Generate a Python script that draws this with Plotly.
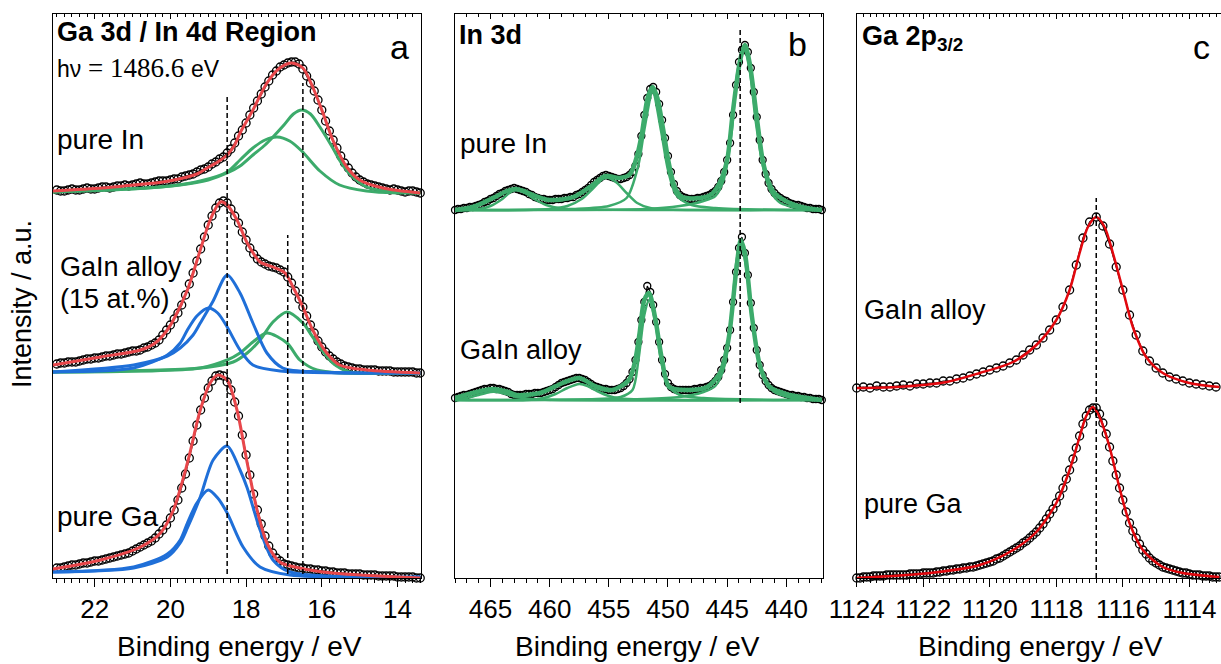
import numpy as np
import plotly.graph_objects as go

# ---------------- DATA ----------------
# Panel a: Ga 3d / In 4d (energy grid 23.0 -> 13.4 eV, 0.1 eV steps)
a_start, a_step = 23.0, 0.1
a_pure_in = [3,2,2,3,4,3,3,4,5,4, 4,5,6,6,5,6,7,7,8,7, 8,9,10,9,9,10,11,12,12,12,
             13,14,14,16,17,18,19,21,23,24, 26,29,31,34,36,40,44,50,57,63, 70,78,85,92,99,106,112,118,122,126,
             128,130,131,131,129,124,117,110,102,93, 83,72,62,53,45,37,30,25,20,16, 13,11,9,8,7,6,5,4,3,4,
             3,2,1,2,2,1,0]
a_alloy = [9,10,10,11,11,11,12,13,14,14, 15,15,16,17,17,18,19,19,20,21, 22,22,23,25,26,28,30,33,38,43,
           48,54,60,68,78,89,100,112,124,136, 148,157,165,170,172,170,164,157,150,141, 133,125,119,114,111,109,107,106,105,103,
           101,96,90,82,74,66,57,48,40,32, 26,21,17,14,11,9,7,6,5,4, 4,3,3,3,3,2,2,2,2,1,
           1,1,1,1,1,0,0]
a_pure_ga = [10,10,11,12,13,13,14,15,15,16, 17,17,18,19,20,21,22,23,24,25, 27,29,31,33,35,37,40,44,48,53,
             60,68,78,90,104,120,137,153,168,180, 190,197,202,203,202,196,188,176,162,143, 123,103,84,68,54,42,32,25,20,17,
             14,13,12,11,10,10,9,9,8,8, 7,7,6,6,5,5,5,4,4,4, 4,3,3,3,3,2,2,2,2,2,
             1,1,1,1,1,0,0]

a_in_fit_E = [23.1, 21.8, 21.0, 20.2, 19.66, 19.3, 19.03, 18.75, 18.5, 18.3, 18.16, 17.82, 17.45, 17.11, 16.79, 16.5, 16.24, 15.97, 15.71, 15.34, 15.0, 14.39, 13.4]
a_in_fit_v = [2, 5, 8, 11, 15, 19, 25, 31, 38, 48, 60, 83, 110, 125, 130, 125, 106, 80, 53, 26, 13, 5, 0]
a_in_c1_E = [23.1, 21.0, 19.74, 19.0, 18.5, 18.16, 17.82, 17.5, 17.29, 17.0, 16.75, 16.53, 16.3, 16.05, 15.71, 15.5, 15.26, 14.82, 14.3, 13.4]
a_in_c1_v = [1, 4, 8, 13, 20, 27, 38, 48, 56, 68, 79, 83, 79, 66, 45, 31, 19, 6, 2, 0]
a_in_c2_E = [23.1, 21.84, 20.26, 19.21, 18.5, 18.16, 17.82, 17.5, 17.18, 16.85, 16.53, 16.05, 15.53, 14.82, 14.0, 13.4]
a_in_c2_v = [1, 3, 6, 12, 21, 33, 45, 53, 56, 52, 42, 22, 8, 2, 0, 0]

a_al_fit_E = [23.1, 21.84, 20.79, 20.4, 20.1, 19.92, 19.55, 19.21, 18.95, 18.68, 18.5, 18.24, 17.97, 17.63, 17.29, 16.97, 16.76, 16.5, 16.24, 15.87, 15.53, 14.82, 13.4]
a_al_fit_v = [8, 16, 23, 30, 42, 53, 83, 123, 153, 171, 168, 153, 130, 111, 106, 100, 86, 66, 43, 20, 8, 3, 0]
a_al_bA_E = [23.1, 20.97, 20.08, 19.74, 19.4, 19.21, 18.87, 18.5, 18.16, 17.82, 17.45, 17.03, 16.05, 13.4]
a_al_bA_v = [1, 8, 17, 25, 38, 50, 72, 98, 80, 50, 20, 5, 1, 0]
a_al_bB_E = [23.1, 20.97, 20.08, 19.74, 19.55, 19.3, 19.0, 18.75, 18.5, 18.16, 17.82, 17.1, 13.4]
a_al_bB_v = [1, 5, 18, 30, 43, 57, 65, 60, 46, 23, 8, 2, 0]
a_al_gA_E = [23.1, 19.21, 18.34, 17.97, 17.63, 17.29, 16.92, 16.5, 16.24, 15.71, 15.26, 14.5, 13.4]
a_al_gA_v = [1, 5, 11, 20, 33, 51, 61, 50, 36, 10, 1, 0, 0]
a_al_gB_E = [23.1, 19.21, 18.5, 18.16, 17.82, 17.45, 16.92, 16.58, 16.13, 15.5, 13.4]
a_al_gB_v = [1, 5, 13, 20, 31, 40, 30, 13, 3, 0, 0]

a_ga_fit_E = [23.1, 21.84, 20.79, 20.26, 19.92, 19.55, 19.21, 18.95, 18.74, 18.5, 18.24, 17.97, 17.71, 17.45, 17.11, 16.58, 15.71, 13.4]
a_ga_fit_v = [9, 18, 31, 45, 68, 115, 168, 195, 203, 198, 168, 115, 68, 35, 16, 10, 5, 0]
a_ga_bA_E = [23.1, 20.97, 20.08, 19.74, 19.55, 19.21, 18.87, 18.5, 18.16, 17.97, 17.63, 17.29, 16.84, 13.4]
a_ga_bA_v = [6, 10, 21, 35, 50, 81, 118, 132, 108, 90, 48, 18, 6, 1]
a_ga_bB_E = [23.1, 20.97, 20.08, 19.74, 19.55, 19.3, 19.0, 18.75, 18.5, 18.08, 17.63, 16.84, 13.4]
a_ga_bB_v = [6, 11, 24, 38, 55, 75, 88, 80, 65, 31, 11, 3, 1]

# Panel b: In 3d (energy grid 468 -> 437 eV, 0.25 eV steps)
b_start, b_step = 468.0, 0.25
b_pure_in = [0,1,1,2,2,3,3,4,5,6, 8,9,11,12,14,16,17,19,20,21, 22,21,20,19,18,16,15,13,12,11,
             11,10,10,10,11,11,11,12,12,13, 13,15,16,18,20,22,25,28,30,32, 34,35,34,33,32,31,31,32,33,35,
             38,44,56,74,95,112,121,123,118,106, 90,72,54,38,26,19,15,13,12,11, 11,11,12,12,13,14,15,17,19,23,
             29,38,50,67,95,125,148,160,165,158, 142,118,93,70,50,36,27,21,17,14, 12,10,9,7,6,5,5,4,3,2,
             2,1,1,1,0]
b_alloy = [2,3,4,5,5,6,7,8,9,10, 11,11,12,12,11,11,10,9,8,6, 5,5,5,5,6,6,6,7,7,7,
           8,9,10,11,13,15,17,18,19,20, 21,22,22,21,20,18,16,14,13,12, 11,11,10,10,10,11,12,14,17,21,
           28,40,58,80,98,114,108,95,78,58, 40,26,17,13,11,10,10,10,10,10, 10,11,11,12,12,13,14,16,19,23,
           30,40,52,70,98,128,152,163,147,125, 97,72,50,35,25,19,15,12,10,9, 8,7,6,5,5,4,4,3,3,2,
           2,1,1,1,0]

b_in_env_E = [468.0, 466.5, 464.8, 463.6, 462.9, 462.2, 461.4, 460.0, 458.0, 456.6, 455.3, 454.1, 453.2, 452.6, 452.2, 451.7, 451.3, 450.9, 450.4, 449.9, 449.4, 448.8, 447.3, 446.3, 445.6, 445.0, 444.5, 443.9, 443.5, 443.1, 442.5, 442.0, 441.5, 441.0, 439.7, 438.3, 437.0]
b_in_env_v = [0, 3, 12, 19, 21, 19, 15, 10, 13, 23, 34, 32, 36, 55, 77, 113, 123, 112, 80, 45, 22, 13, 12, 16, 28, 50, 100, 150, 165, 147, 93, 50, 28, 17, 7, 2, 0]
b_in_p1_E = [468, 466, 465, 464, 463.3, 462.8, 462.2, 461.3, 460.3, 459, 457, 437]
b_in_p1_v = [0, 1, 4, 11, 18, 20, 18, 11, 5, 1.5, 0.5, 0]
b_in_p2_E = [468, 462, 460, 458.5, 457.3, 456.3, 455.5, 455.0, 454.3, 453.5, 452.6, 451.5, 450, 437]
b_in_p2_v = [0, 0, 1, 4, 11, 22, 31, 32, 27, 17, 7, 2, 0.5, 0]
b_in_d32_E = [468, 458, 455, 453.5, 452.5, 452.0, 451.3, 450.6, 450.0, 449.3, 448, 446, 440, 437]
b_in_d32_v = [0, 1, 4, 12, 45, 80, 118, 80, 40, 15, 5, 2, 0, 0]
b_in_d52_E = [468, 452, 449, 447, 446, 445.3, 444.6, 444.1, 443.55, 443.1, 442.6, 442.0, 441.3, 440.5, 439, 437]
b_in_d52_v = [0, 1, 4, 9, 14, 30, 80, 140, 160, 140, 90, 45, 18, 7, 2, 0]

b_al_env_E = [468.0, 466.5, 464.8, 463.5, 462.8, 460.8, 458.9, 457.5, 456.0, 454.7, 453.3, 452.8, 452.4, 452.0, 451.6, 451.1, 450.5, 449.9, 448.4, 446.7, 445.6, 445.2, 444.8, 444.2, 443.85, 443.5, 442.9, 442.2, 441.4, 439.7, 437.0]
b_al_env_v = [2, 7, 11, 8, 5, 7, 17, 22, 13, 10, 20, 38, 67, 100, 107, 83, 40, 13, 10, 13, 27, 42, 67, 133, 160, 147, 83, 33, 13, 5, 0]
b_al_p1_E = [468, 467, 466, 465, 464.5, 463.7, 462.8, 461.5, 460, 437]
b_al_p1_v = [0, 2, 5, 8, 8, 6, 3, 1, 0, 0]
b_al_p2_E = [468, 462, 460.5, 459.5, 458.5, 457.5, 456.8, 456, 455, 454, 452, 437]
b_al_p2_v = [0, 0, 2, 6, 12, 16, 14, 9, 4, 1.5, 0.5, 0]
b_al_d32_E = [468, 456, 454, 453, 452.5, 452.0, 451.6, 451.1, 450.6, 450.0, 449, 447, 440, 437]
b_al_d32_v = [0, 1, 3, 10, 40, 85, 100, 80, 40, 15, 5, 2, 0, 0]
b_al_d52_E = [468, 452, 449, 447, 446, 445.2, 444.6, 444.2, 443.85, 443.5, 443.0, 442.4, 441.8, 441.0, 439.5, 437]
b_al_d52_v = [0, 1, 3, 8, 14, 35, 90, 140, 155, 140, 95, 45, 20, 8, 2, 0]

# Panel c: Ga 2p3/2
c_al_start, c_al_step = 1124.0, 0.2
c_alloy = [2,3,2,4,3,3,4,5,4,6, 6,7,7,9,9,11,12,14,16,18, 20,22,24,27,30,35,40,45,52,60,
           70,83,100,125,152,168,173,164,146,123, 100,75,55,39,29,22,17,13,11,9, 7,6,5,4,3]
c_ga_start, c_ga_step = 1124.0, 0.1
c_pure_ga = [0,0,1,1,1,2,2,2,2,3, 3,3,3,3,3,3,4,4,4,4, 5,5,5,5,6,6,7,7,8,8, 9,9,10,10,11,11,12,13,14,15,
             16,17,19,20,22,24,26,28,30,32, 35,37,40,43,46,50,54,59,64,69, 75,82,90,99,108,119,130,142,154,162,
             168,170,170,164,155,144,131,117,103,90, 78,66,55,47,40,34,28,24,20,17, 15,13,11,10,9,8,7,6,5,5,
             4,3,3,3,2,2,2,1,1,1]
c_al_fit_E = [1124.0, 1122.8, 1121.3, 1120.3, 1119.3, 1118.6, 1118.0, 1117.6, 1117.3, 1117.05, 1116.8, 1116.55, 1116.3, 1116.0, 1115.7, 1115.3, 1114.8, 1114.0, 1113.1]
c_al_fit_v = [2, 3, 8, 17, 28, 45, 70, 100, 137, 163, 173, 163, 137, 100, 63, 33, 17, 7, 3]
c_ga_fit_E = [1124.0, 1121.8, 1120.3, 1119.3, 1118.6, 1118.0, 1117.6, 1117.3, 1117.1, 1116.9, 1116.7, 1116.4, 1116.1, 1115.8, 1115.4, 1114.8, 1114.2, 1113.1]
c_ga_fit_v = [0, 5, 13, 28, 46, 75, 108, 141, 162, 171, 161, 131, 90, 55, 28, 11, 5, 1]

# vertical stacking offsets (a.u.)
off = dict(a_in=385, a_al=205, a_ga=0, b_in=368, b_al=178, c_al=188, c_ga=0)

# reference energies (dashed lines)
a_refs = [(18.5, 481), (16.5, 495), (16.9, 343)]
b_refs = [(443.9, 548)]
c_refs = [(1116.8, 380)]

# ---------------- STYLE ----------------
RED_A = '#E8474B'
RED_C = '#E2080E'
GREEN = '#3CAB6B'
BLUE = '#1F6FD8'
FONT = 'Liberation Sans, Arial, sans-serif'
SERIF = 'Liberation Serif, Times New Roman, serif'
W, H = 1221, 664

fig = go.Figure()


def grid(start, step, n):
    return [round(start - step * i, 3) for i in range(n)]


def data_trace(E, v, o, ax, ay, size=8):
    fig.add_trace(go.Scatter(x=E, y=[val + o for val in v], mode='lines+markers', xaxis=ax, yaxis=ay,
                             line=dict(color='black', width=1.2),
                             marker=dict(symbol='circle-open', size=size, color='black', line=dict(width=1.3)),
                             cliponaxis=False, hoverinfo='skip'))


def line_trace(E, v, o, ax, ay, color, width):
    fig.add_trace(go.Scatter(x=E, y=[val + o for val in v], mode='lines', xaxis=ax, yaxis=ay,
                             line=dict(color=color, width=width, shape='spline', smoothing=0.8),
                             cliponaxis=False, hoverinfo='skip'))


# Panel a
for vals, key in [(a_pure_in, 'a_in'), (a_alloy, 'a_al'), (a_pure_ga, 'a_ga')]:
    data_trace(grid(a_start, a_step, len(vals)), vals, off[key], 'x', 'y')
line_trace(a_in_c2_E, a_in_c2_v, off['a_in'], 'x', 'y', GREEN, 3)
line_trace(a_in_c1_E, a_in_c1_v, off['a_in'], 'x', 'y', GREEN, 3)
line_trace(a_in_fit_E, a_in_fit_v, off['a_in'], 'x', 'y', RED_A, 3)
line_trace(a_al_gB_E, a_al_gB_v, off['a_al'], 'x', 'y', GREEN, 3)
line_trace(a_al_gA_E, a_al_gA_v, off['a_al'], 'x', 'y', GREEN, 3)
line_trace(a_al_bB_E, a_al_bB_v, off['a_al'], 'x', 'y', BLUE, 3)
line_trace(a_al_bA_E, a_al_bA_v, off['a_al'], 'x', 'y', BLUE, 3)
line_trace(a_al_fit_E, a_al_fit_v, off['a_al'], 'x', 'y', RED_A, 3)
line_trace(a_ga_bB_E, a_ga_bB_v, off['a_ga'], 'x', 'y', BLUE, 3)
line_trace(a_ga_bA_E, a_ga_bA_v, off['a_ga'], 'x', 'y', BLUE, 3)
line_trace(a_ga_fit_E, a_ga_fit_v, off['a_ga'], 'x', 'y', RED_A, 3)

# Panel b
for vals, key in [(b_pure_in, 'b_in'), (b_alloy, 'b_al')]:
    data_trace(grid(b_start, b_step, len(vals)), vals, off[key], 'x2', 'y2', size=7)
for E, v in [(b_in_p1_E, b_in_p1_v), (b_in_p2_E, b_in_p2_v), (b_in_d32_E, b_in_d32_v), (b_in_d52_E, b_in_d52_v)]:
    line_trace(E, v, off['b_in'], 'x2', 'y2', GREEN, 2.5)
line_trace(b_in_env_E, b_in_env_v, off['b_in'], 'x2', 'y2', GREEN, 4.5)
for E, v in [(b_al_p1_E, b_al_p1_v), (b_al_p2_E, b_al_p2_v), (b_al_d32_E, b_al_d32_v), (b_al_d52_E, b_al_d52_v)]:
    line_trace(E, v, off['b_al'], 'x2', 'y2', GREEN, 2.5)
line_trace(b_al_env_E, b_al_env_v, off['b_al'], 'x2', 'y2', GREEN, 4.5)

# Panel c
data_trace(grid(c_al_start, c_al_step, len(c_alloy)), c_alloy, off['c_al'], 'x3', 'y3')
data_trace(grid(c_ga_start, c_ga_step, len(c_pure_ga)), c_pure_ga, off['c_ga'], 'x3', 'y3')
line_trace(c_al_fit_E, c_al_fit_v, off['c_al'], 'x3', 'y3', RED_C, 2.5)
line_trace(c_ga_fit_E, c_ga_fit_v, off['c_ga'], 'x3', 'y3', RED_C, 2.5)

# invisible traces for top tick axes
for ax, ay, xv in [('x4', 'y', 18), ('x5', 'y2', 450), ('x6', 'y3', 1118)]:
    fig.add_trace(go.Scatter(x=[xv], y=[-50], xaxis=ax, yaxis=ay, mode='markers',
                             marker=dict(opacity=0), hoverinfo='skip'))

# dashed reference lines
shapes = []
for (xr, yr, refs, bottom) in [('x', 'y', a_refs, 4), ('x2', 'y2', b_refs, off['b_al'] - 3), ('x3', 'y3', c_refs, 0)]:
    for e, top in refs:
        shapes.append(dict(type='line', xref=xr, yref=yr, x0=e, x1=e, y0=bottom, y1=top,
                           line=dict(color='black', width=1.5, dash='5px,3px')))

ydom = [86 / H, 650 / H]
doms = {'a': [53 / W, 421 / W], 'b': [455 / W, 823 / W], 'c': [856.7 / W, 1.0]}
ranges = {'a': [23.1, 13.38], 'b': [468.0, 436.9], 'c': [1124.0, 1113.05]}
majors = {'a': 2, 'b': 5, 'c': 2}
minors = {'a': 0.2, 'b': 1, 'c': 0.2}


def xax(k, anchor):
    return dict(domain=doms[k], range=ranges[k], anchor=anchor, showline=True, linecolor='black', linewidth=1.3,
                mirror=True, ticks='outside', ticklen=8, tickwidth=1.3, tickcolor='black', tick0=0, dtick=majors[k],
                showgrid=False, zeroline=False, automargin=False,
                tickfont=dict(family=FONT, size=26, color='black'),
                minor=dict(dtick=minors[k], tick0=0, ticks='outside', ticklen=4, tickwidth=1, tickcolor='black',
                           showgrid=False))


def topax(k, over, anchor):
    return dict(range=ranges[k], overlaying=over, anchor=anchor, side='top', showline=False, automargin=False,
                ticks='inside', ticklen=5, tickwidth=1.2, tickcolor='black', tick0=0, dtick=majors[k],
                showticklabels=False, showgrid=False, zeroline=False,
                minor=dict(dtick=minors[k], tick0=0, ticks='inside', ticklen=3, tickwidth=1, tickcolor='black',
                           showgrid=False))


def yax(anchor, mirror=True):
    return dict(domain=ydom, range=[0, 564], anchor=anchor, showline=True, linecolor='black', linewidth=1.3,
                mirror=mirror, ticks='', showticklabels=False, showgrid=False, zeroline=False, automargin=False)


def ann(text, px, py, size=26, xanchor='left', angle=0):
    return dict(text=text, x=px / W, y=1 - py / H, xref='paper', yref='paper', xanchor=xanchor, yanchor='middle',
                showarrow=False, textangle=angle, font=dict(family=FONT, size=size, color='black'))


hv_text = ('hν<span style="font-family:' + SERIF + ';font-size:27px"> = 1486.6 </span>eV')
annotations = [
    ann('<b>Ga 3d / In 4d Region</b>', 55, 32, size=27),
    ann(hv_text, 55, 68, size=23),
    ann('a', 399, 47, size=34, xanchor='center'),
    ann('pure In', 55, 140, size=28),
    ann('GaIn alloy', 58, 267, size=27),
    ann('(15 at.%)', 58, 299, size=27),
    ann('pure Ga', 55, 516, size=28),
    ann('<b>In 3d</b>', 457, 35, size=27),
    ann('b', 797, 44, size=34, xanchor='center'),
    ann('pure In', 458, 143, size=28),
    ann('GaIn alloy', 458, 350, size=27),
    ann('<b>Ga 2p<sub>3/2</sub></b>', 860, 38, size=27),
    ann('c', 1201, 47, size=34, xanchor='center'),
    ann('GaIn alloy', 862, 310, size=27),
    ann('pure Ga', 862, 504, size=27),
    ann('Binding energy / eV', 240, 646, size=28, xanchor='center'),
    ann('Binding energy / eV', 637, 646, size=28, xanchor='center'),
    ann('Binding energy / eV', 1040, 646, size=28, xanchor='center'),
    ann('Intensity / a.u.', 22, 304, size=27, xanchor='center', angle=-90),
]

fig.update_layout(
    width=W, height=H, margin=dict(l=0, r=0, t=0, b=0, autoexpand=False), paper_bgcolor='white',
    plot_bgcolor='white', showlegend=False, font=dict(family=FONT, size=26, color='black'),
    xaxis=xax('a', 'y'), xaxis2=xax('b', 'y2'), xaxis3=xax('c', 'y3'),
    xaxis4=topax('a', 'x', 'y'), xaxis5=topax('b', 'x2', 'y2'), xaxis6=topax('c', 'x3', 'y3'),
    yaxis=yax('x'), yaxis2=yax('x2'), yaxis3=yax('x3', mirror=False),
    shapes=shapes, annotations=annotations,
)

fig.write_html('out.html', config={'displayModeBar': False},
               post_script="document.body.style.margin='0px';document.body.style.overflow='hidden';")
